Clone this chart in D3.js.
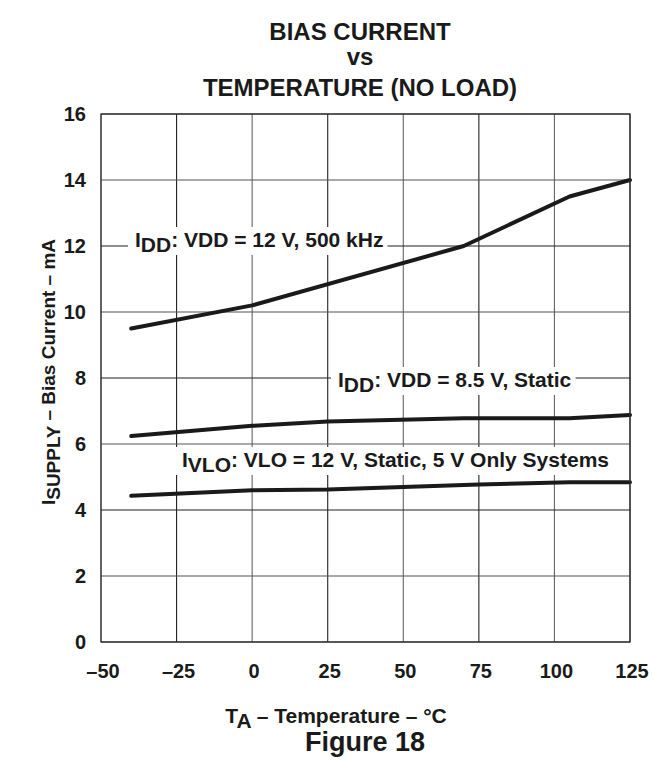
<!DOCTYPE html>
<html><head><meta charset="utf-8">
<script src="https://cdn.jsdelivr.net/npm/d3@7"></script>
<style>
body{margin:0;background:#fff;}
text{font-family:"Liberation Sans",Arial,Helvetica,sans-serif;font-weight:bold;fill:#1a1a1a;}
</style></head>
<body><svg id="c" width="653" height="761"></svg>
<script>
const xTicks = [-50,-25,0,25,50,75,100,125];
const yTicks = [0,2,4,6,8,10,12,14,16];
const temp12 = [-40,0,70,105,125];
const idd12  = [9.5,10.2,12.0,13.5,14.0];
const temp85 = [-40,0,25,70,105,125];
const idd85  = [6.24,6.55,6.68,6.78,6.78,6.88];
const tempVlo = [-40,0,25,50,75,105,125];
const ivlo    = [4.43,4.6,4.62,4.7,4.77,4.84,4.84];

const svg = d3.select("#c");
const L=101,R=630,T=114,B=642;
const x = d3.scaleLinear().domain([-50,125]).range([L,R]);
const y = d3.scaleLinear().domain([0,16]).range([B,T]);

// grid
const g = svg.append("g");
g.selectAll(".vx").data(xTicks).enter().append("line")
 .attr("x1",d=>x(d)).attr("x2",d=>x(d)).attr("y1",T).attr("y2",B)
 .attr("stroke",(d,i)=>i%2?"#222":"#666").attr("stroke-width",1.1);
g.selectAll(".hy").data(yTicks).enter().append("line")
 .attr("y1",d=>y(d)).attr("y2",d=>y(d)).attr("x1",L).attr("x2",R)
 .attr("stroke",(d,i)=>i%2?"#555":"#222").attr("stroke-width",1.1);

// tick labels
svg.selectAll(".xl").data(xTicks).enter().append("text")
 .attr("x",d=>x(d)+2).attr("y",678).attr("text-anchor","middle")
 .attr("font-size",20).text(d=>d<0?"\u2013"+(-d):d);
svg.selectAll(".yl").data(yTicks).enter().append("text")
 .attr("x",86).attr("y",d=>y(d)+7).attr("text-anchor","end")
 .attr("font-size",20).text(d=>d);

// lines
const line = d3.line().x(d=>x(d[0])).y(d=>y(d[1]));
const series=[d3.zip(temp12,idd12),d3.zip(temp85,idd85),d3.zip(tempVlo,ivlo)];
svg.selectAll(".ln").data(series).enter().append("path")
 .attr("d",line).attr("fill","none").attr("stroke","#1a1a1a")
 .attr("stroke-width",4).attr("stroke-linecap","round").attr("stroke-linejoin","round");

// annotations
function ann(px,py,sub,rest){
  const gg=svg.append("g");
  const rect=gg.append("rect").attr("fill","#fff");
  const t=gg.append("text").attr("x",px).attr("y",py).attr("font-size",21);
  t.append("tspan").text("I");
  t.append("tspan").attr("dy",5).text(sub);
  t.append("tspan").attr("dy",-5).text(rest);
  const bb=t.node().getBBox();
  rect.attr("x",px-7).attr("y",py-20).attr("width",bb.width+11).attr("height",28);
}
ann(135,247,"DD",": VDD = 12 V, 500 kHz");
ann(338,387,"DD",": VDD = 8.5 V, Static");
ann(182,467,"VLO",": VLO = 12 V, Static, 5 V Only Systems");

// frame
svg.append("rect").attr("x",L).attr("y",T).attr("width",R-L).attr("height",B-T)
 .attr("fill","none").attr("stroke","#333").attr("stroke-width",1.2);

// titles
const tt=[["BIAS CURRENT",40],["vs",65],["TEMPERATURE (NO LOAD)",96]];
svg.selectAll(".tt").data(tt).enter().append("text")
 .attr("x",360).attr("y",d=>d[1]).attr("text-anchor","middle").attr("font-size",24).text(d=>d[0]);

// x label
const xl=svg.append("text").attr("x",336).attr("y",723).attr("text-anchor","middle").attr("font-size",21);
xl.append("tspan").text("T");
xl.append("tspan").attr("dy",5).text("A");
xl.append("tspan").attr("dy",-5).text(" \u2013 Temperature \u2013 \u00B0C");
svg.append("text").attr("x",365).attr("y",751).attr("text-anchor","middle").attr("font-size",27).text("Figure 18");

// y label
const yl=svg.append("text").attr("transform","translate(55,372) rotate(-90)").attr("text-anchor","middle").attr("font-size",19);
yl.append("tspan").text("I");
yl.append("tspan").attr("dy",5).text("SUPPLY");
yl.append("tspan").attr("dy",-5).text(" \u2013 Bias Current \u2013 mA");
</script></body></html>
